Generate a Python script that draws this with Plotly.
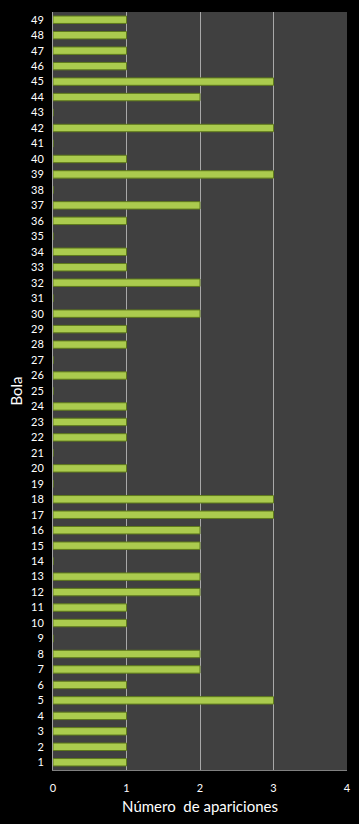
import plotly.graph_objects as go

bolas = list(range(1, 50))
apariciones = [1, 1, 1, 1, 3, 1, 2, 2, 0, 1,
               1, 2, 2, 0, 2, 2, 3, 3, 0, 1,
               0, 1, 1, 1, 0, 1, 0, 1, 1, 2,
               0, 2, 1, 1, 0, 1, 2, 0, 3, 1,
               0, 3, 0, 2, 3, 1, 1, 1, 1]
x_ticks = [0, 1, 2, 3, 4]

fig = go.Figure()
fig.add_trace(go.Bar(
    x=apariciones, y=bolas, orientation="h",
    marker=dict(color="#abcb4e", line=dict(color="#5f7a1c", width=1)),
    width=0.48,
))

font = "Lato, 'Open Sans', sans-serif"
fig.update_layout(
    width=359, height=824,
    margin=dict(l=53, r=12, t=12, b=54, autoexpand=False),
    paper_bgcolor="black",
    plot_bgcolor="#404040",
    showlegend=False,
    font=dict(family=font, color="white", size=11),
    xaxis=dict(
        range=[0, 4], tickvals=x_ticks, showgrid=True,
        gridcolor="#a8a8a8", gridwidth=1,
        ticks="outside", ticklen=8, tickcolor="black",
        zeroline=False, showline=True, linecolor="#808080",
        automargin=False,
        title=dict(text="Número  de apariciones", font=dict(size=15), standoff=8),
        tickfont=dict(size=11),
    ),
    yaxis=dict(
        range=[0.5, 49.5], tickmode="array", tickvals=bolas,
        showgrid=False, zeroline=False,
        ticks="outside", ticklen=6, tickcolor="black",
        showline=True, linecolor="#a0a0a0",
        automargin=False,
        title=dict(text="Bola", font=dict(size=15), standoff=4),
        tickfont=dict(size=11),
    ),
)
fig.write_html("out.html")
